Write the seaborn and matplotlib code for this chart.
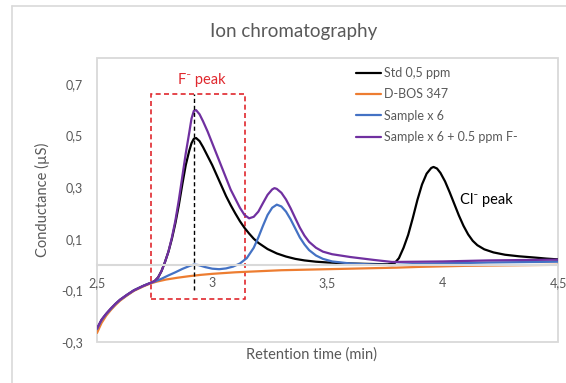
import numpy as np
import pandas as pd
import matplotlib
matplotlib.use("Agg")
import matplotlib.pyplot as plt
from matplotlib.patches import Rectangle
from matplotlib.lines import Line2D
import seaborn as sns

# Std 0,5 ppm trace (retention time in min, conductance in uS)
std_rt = [2.5, 2.51, 2.52, 2.54, 2.56, 2.58, 2.6, 2.63, 2.66, 2.7, 2.73, 2.75,
          2.765, 2.78, 2.795, 2.81, 2.825, 2.84, 2.855, 2.87, 2.885, 2.9, 2.91,
          2.92, 2.93, 2.945, 2.96, 2.98, 3.0, 3.02, 3.04, 3.06, 3.08, 3.1, 3.12,
          3.14, 3.16, 3.18, 3.2, 3.24, 3.28, 3.32, 3.36, 3.4, 3.45, 3.5, 3.6,
          3.7, 3.76, 3.79, 3.81, 3.83, 3.85, 3.87, 3.89, 3.91, 3.93, 3.95, 3.96,
          3.975, 3.99, 4.01, 4.03, 4.05, 4.07, 4.09, 4.11, 4.13, 4.15, 4.18,
          4.22, 4.27, 4.33, 4.4, 4.45, 4.5]
std_val = [-0.25, -0.232, -0.215, -0.192, -0.172, -0.153, -0.137, -0.118, -0.1,
           -0.083, -0.072, -0.064, -0.05, -0.025, 0.01, 0.05, 0.1, 0.16, 0.23,
           0.31, 0.385, 0.44, 0.47, 0.487, 0.49, 0.478, 0.455, 0.42, 0.385,
           0.345, 0.305, 0.265, 0.23, 0.198, 0.168, 0.142, 0.12, 0.1, 0.084,
           0.06, 0.043, 0.031, 0.022, 0.016, 0.011, 0.008, 0.004, 0.002, 0.001,
           0.004, 0.025, 0.065, 0.115, 0.18, 0.25, 0.31, 0.352, 0.374, 0.378,
           0.372, 0.355, 0.322, 0.28, 0.235, 0.19, 0.15, 0.117, 0.092, 0.075,
           0.059, 0.047, 0.038, 0.032, 0.027, 0.023, 0.02]

# D-BOS 347 blank
dbos_rt = [2.5, 2.51, 2.52, 2.54, 2.56, 2.58, 2.6, 2.63, 2.66, 2.7, 2.73, 2.76,
           2.8, 2.85, 2.9, 2.95, 3.0, 3.1, 3.2, 3.3, 3.4, 3.5, 3.6, 3.7, 3.8,
           3.9, 4.0, 4.1, 4.2, 4.3, 4.4, 4.5]
dbos_val = [-0.265, -0.245, -0.226, -0.198, -0.176, -0.157, -0.14, -0.12,
            -0.102, -0.085, -0.074, -0.066, -0.058, -0.051, -0.045, -0.04,
            -0.036, -0.03, -0.026, -0.022, -0.02, -0.018, -0.016, -0.014,
            -0.012, -0.009, -0.007, -0.005, -0.004, -0.003, -0.002, -0.001]

# Sample x 6
smp_rt = [2.5, 2.51, 2.52, 2.54, 2.56, 2.58, 2.6, 2.63, 2.66, 2.7, 2.73, 2.75,
          2.78, 2.81, 2.84, 2.87, 2.9, 2.92, 2.94, 2.97, 3.0, 3.03, 3.06, 3.09,
          3.12, 3.15, 3.18, 3.2, 3.22, 3.24, 3.26, 3.28, 3.3, 3.32, 3.34, 3.36,
          3.38, 3.4, 3.42, 3.45, 3.48, 3.52, 3.6, 3.7, 3.78, 3.9, 4.0, 4.1, 4.2,
          4.3, 4.4, 4.5]
smp_val = [-0.25, -0.232, -0.215, -0.192, -0.172, -0.153, -0.137, -0.118, -0.1,
           -0.083, -0.072, -0.066, -0.055, -0.042, -0.03, -0.017, -0.006, 0.0,
           -0.002, -0.01, -0.016, -0.018, -0.015, -0.008, 0.004, 0.025, 0.065,
           0.105, 0.15, 0.192, 0.22, 0.232, 0.225, 0.205, 0.175, 0.14, 0.105,
           0.078, 0.056, 0.035, 0.022, 0.012, 0.004, 0.0, -0.002, 0.003, 0.005,
           0.006, 0.008, 0.009, 0.01, 0.011]

# Sample x 6 + 0.5 ppm F-
spk_rt = [2.5, 2.51, 2.52, 2.54, 2.56, 2.58, 2.6, 2.63, 2.66, 2.7, 2.73, 2.75,
          2.765, 2.78, 2.795, 2.81, 2.825, 2.84, 2.855, 2.87, 2.885, 2.9, 2.91,
          2.92, 2.93, 2.945, 2.96, 2.98, 3.0, 3.02, 3.04, 3.06, 3.08, 3.1, 3.12,
          3.14, 3.16, 3.18, 3.2, 3.22, 3.24, 3.26, 3.27, 3.28, 3.3, 3.32, 3.34,
          3.36, 3.38, 3.4, 3.42, 3.45, 3.48, 3.52, 3.6, 3.7, 3.78, 3.9, 4.0, 4.1,
          4.2, 4.3, 4.4, 4.5]
spk_val = [-0.248, -0.23, -0.213, -0.19, -0.17, -0.152, -0.136, -0.117, -0.1,
           -0.083, -0.072, -0.064, -0.05, -0.025, 0.01, 0.05, 0.105, 0.17, 0.25,
           0.34, 0.43, 0.51, 0.565, 0.595, 0.598, 0.582, 0.555, 0.515, 0.47,
           0.425, 0.38, 0.335, 0.29, 0.255, 0.22, 0.192, 0.179, 0.185, 0.205,
           0.238, 0.27, 0.291, 0.296, 0.293, 0.278, 0.252, 0.218, 0.18, 0.143,
           0.112, 0.088, 0.065, 0.05, 0.04, 0.029, 0.018, 0.01, 0.011, 0.012,
           0.014, 0.016, 0.017, 0.018, 0.019]

series_names = ["Std 0,5 ppm", "D-BOS 347", "Sample x 6", "Sample x 6 + 0.5 ppm F-"]
series_colors = ["#000000", "#ED7D31", "#4472C4", "#7030A0"]

y_ticks = [-0.3, -0.1, 0.1, 0.3, 0.5, 0.7]
y_tick_labels = ["-0,3", "-0,1", "0,1", "0,3", "0,5", "0,7"]
x_ticks = [2.5, 3.0, 3.5, 4.0, 4.5]
x_tick_labels = ["2,5", "3", "3,5", "4", "4,5"]

traces = [(std_rt, std_val), (dbos_rt, dbos_val), (smp_rt, smp_val), (spk_rt, spk_val)]
df = pd.concat([
    pd.DataFrame({"rt": t, "cond": v, "series": name})
    for name, (t, v) in zip(series_names, traces)
], ignore_index=True)

sns.set_theme(style="white")
plt.rcParams["font.family"] = ["Lato", "DejaVu Sans"]

grey_txt = "#595959"
grey_line = "#D9D9D9"
red = "#E0282E"

fig = plt.figure(figsize=(5.66, 3.83), dpi=100)
ax = fig.add_axes([97 / 566, 41 / 383, 461 / 566, 284 / 383])

sns.lineplot(data=df, x="rt", y="cond", hue="series", hue_order=series_names,
             palette=dict(zip(series_names, series_colors)), linewidth=1.6,
             ax=ax, legend=True, sort=False)

ax.set_xlim(2.5, 4.5)
ax.set_ylim(-0.3, 0.8)
ax.set_xticks(x_ticks)
ax.set_xticklabels(x_tick_labels)
ax.set_yticks(y_ticks)
ax.set_yticklabels(y_tick_labels)
ax.tick_params(axis="both", length=0, labelsize=9, colors=grey_txt)
ax.tick_params(axis="x", pad=9)
ax.tick_params(axis="y", pad=10)
ax.set_xlabel("")
ax.set_ylabel("")

# horizontal axis crosses at zero, Excel style
for side in ["top", "right", "left"]:
    ax.spines[side].set_visible(False)
ax.spines["bottom"].set_position(("data", 0))
ax.spines["bottom"].set_color(grey_line)
ax.spines["bottom"].set_linewidth(1.5)
ax.add_patch(Rectangle((0, 0), 1, 1, transform=ax.transAxes, fill=False,
                       edgecolor=grey_line, linewidth=1.3, clip_on=False, zorder=0))

# F- peak box and marker
ax.add_patch(Rectangle((2.735, -0.134), 0.406, 0.794, fill=False,
                       edgecolor=red, linestyle=(0, (3, 2)), linewidth=1.2))
ax.plot([2.92, 2.92], [-0.1, 0.66], color="black", linestyle=(0, (3, 2)),
        linewidth=1.0)
ax.text(2.953, 0.715, "F⁻ peak", color=red, fontsize=10.5,
        ha="center", va="center")
ax.text(4.073, 0.25, "Cl⁻ peak", color="black", fontsize=10.5,
        ha="left", va="center")

handles, labels = ax.get_legend_handles_labels()
ax.legend(handles, labels, loc="upper left", bbox_to_anchor=(356 / 566, 1 - 67 / 383),
          bbox_transform=fig.transFigure, frameon=False, fontsize=9,
          handlelength=2.0, handletextpad=0.2, labelspacing=0.75, borderpad=0,
          borderaxespad=0, labelcolor=grey_txt)

fig.text(294 / 566, 1 - 32 / 383, "Ion chromatography", ha="center", va="center",
         fontsize=13.5, color=grey_txt)
fig.text(42 / 566, 1 - 200 / 383, "Conductance (µS)", ha="center", va="center",
         rotation=90, fontsize=10.5, color=grey_txt)
fig.text(311 / 566, 1 - 355 / 383, "Retention time (min)", ha="center", va="center",
         fontsize=10.5, color=grey_txt)

# outer chart border (partly cropped in the original)
fig.add_artist(Line2D([12 / 566, 12 / 566], [0, 1 - 6 / 383], transform=fig.transFigure,
                      color=grey_line, linewidth=1.2))
fig.add_artist(Line2D([12 / 566, 1], [1 - 6 / 383, 1 - 6 / 383], transform=fig.transFigure,
                      color=grey_line, linewidth=1.2))

fig.savefig("out.png", dpi=100)
